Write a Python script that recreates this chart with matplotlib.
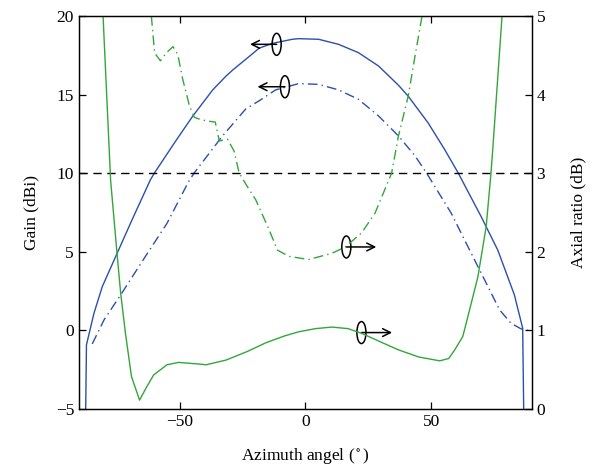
import numpy as np
import matplotlib
matplotlib.use("Agg")
import matplotlib.pyplot as plt
from matplotlib.patches import Ellipse

plt.rcParams['font.family'] = ['Liberation Serif', 'DejaVu Serif']
plt.rcParams['font.size'] = 12.5
plt.rcParams['mathtext.fontset'] = 'stix'

BLUE = '#2c4fae'
GREEN = '#33a63a'

# gain, solid blue (dBi)
gain1_x = [-87.3, -87.0, -84.0, -80.7, -74.8, -68.9, -61.6, -59.9, -51.3, -44.7, -36.8,
           -31.5, -28.9, -21.0, -18.4, -13.1, -5.2, -2.6, 5.3, 13.2, 21.1, 29.1, 37.0,
           40.9, 48.8, 55.4, 60.7, 69.9, 76.5, 83.1, 86.4, 86.8]
gain1_y = [-5.0, -0.93, 1.09, 2.78, 4.9, 7.02, 9.57, 10.03, 12.1, 13.64, 15.3,
           16.18, 16.56, 17.6, 17.95, 18.26, 18.52, 18.56, 18.52, 18.2, 17.67, 16.82, 15.6,
           14.9, 13.2, 11.5, 10.03, 7.23, 5.1, 2.25, 0.13, -5.0]

# gain, dash-dot blue (dBi)
gain2_x = [-84.7, -80.0, -73.4, -63.6, -55.0, -46.4, -44.1, -32.9, -23.6, -18.4, -11.8,
           -2.6, 5.3, 13.2, 21.1, 29.1, 37.0, 43.6, 48.1, 58.0, 64.6, 71.9, 77.2,
           81.7, 85.7, 89.5]
gain2_y = [-0.87, 0.66, 2.25, 4.69, 6.8, 9.46, 10.03, 12.37, 14.1, 14.6, 15.3,
           15.7, 15.65, 15.3, 14.7, 13.64, 12.37, 11.1, 10.03, 7.45, 5.33, 3.0, 1.3,
           0.45, 0.09, -0.05]

# axial ratio, solid green (dB)
ar1_x = [-80.4, -77.4, -74.8, -73.4, -71.5, -69.1, -65.9, -63.2, -60.3, -55.0, -50.4,
         -42.5, -39.4, -31.5, -23.0, -15.7, -8.0, -2.6, 4.0, 10.6, 17.0, 22.4, 30.0,
         37.0, 45.0, 53.4, 57.0, 59.4, 62.6, 65.3, 68.6, 71.9, 73.8, 74.5, 78.2]
ar1_y = [5.0, 2.91, 1.96, 1.47, 0.96, 0.41, 0.11, 0.27, 0.43, 0.56, 0.59,
         0.57, 0.56, 0.62, 0.73, 0.84, 0.93, 0.98, 1.02, 1.04, 1.02, 0.96, 0.85,
         0.75, 0.66, 0.61, 0.64, 0.75, 0.92, 1.26, 1.68, 2.32, 3.0, 3.3, 5.0]

# axial ratio, dash-dot green (dB)
ar2_x = [-61.2, -59.9, -57.6, -55.3, -52.6, -50.7, -48.7, -46.0, -44.1, -41.4, -38.1,
         -35.8, -34.2, -30.9, -28.3, -26.3, -22.5, -19.7, -14.4, -11.1, -6.5, 1.4, 10.6,
         15.9, 22.4, 27.7, 34.3, 37.0, 40.9, 43.6, 46.4]
ar2_y = [5.0, 4.53, 4.43, 4.53, 4.61, 4.51, 4.19, 3.85, 3.71, 3.68, 3.66,
         3.65, 3.41, 3.43, 3.28, 3.0, 2.8, 2.66, 2.28, 2.02, 1.94, 1.90, 1.98,
         2.06, 2.24, 2.49, 3.0, 3.47, 3.98, 4.49, 5.0]

x_ticks = [-50, 0, 50]
gain_ticks = [-5, 0, 5, 10, 15, 20]
ar_ticks = [0, 1, 2, 3, 4, 5]

fig = plt.figure(figsize=(6.07, 4.72), dpi=100)
ax = fig.add_axes([0.130, 0.134, 0.746, 0.832])
ax2 = ax.twinx()

dashdot = (0, (7, 3, 1, 3))
ax.plot(gain1_x, gain1_y, color=BLUE, lw=1.0)
ax.plot(gain2_x, gain2_y, color=BLUE, lw=1.0, ls=dashdot)
ax.axhline(10, color='black', lw=1.0, ls=(0, (6, 4)))
ax2.plot(ar1_x, ar1_y, color=GREEN, lw=1.0)
ax2.plot(ar2_x, ar2_y, color=GREEN, lw=1.0, ls=dashdot)

ax.set_xlim(-90, 90)
ax.set_ylim(-5, 20)
ax2.set_ylim(0, 5)
ax.set_xticks(x_ticks)
ax.set_yticks(gain_ticks)
ax2.set_yticks(ar_ticks)
ax.tick_params(direction='in', length=5, top=True, width=0.9)
ax2.tick_params(direction='in', length=5, width=0.9)
for a in (ax, ax2):
    for s in a.spines.values():
        s.set_linewidth(0.9)

ax.set_xlabel('Azimuth angel ($^\\circ$)', labelpad=12)
ax.set_ylabel('Gain (dBi)', labelpad=12)
ax2.set_ylabel('Axial ratio (dB)', labelpad=18)

# ellipse + arrow markers pointing to the axis of each curve
markers = [(-11.4, 18.2, -22.0), (-8.1, 15.5, -19.0), (16.3, 5.3, 28.2), (22.3, -0.15, 34.5)]
for cx, cy, tx in markers:
    ax.add_patch(Ellipse((cx, cy), 3.6, 1.4, fill=False, ec='black', lw=1.1, zorder=5))
    ax.annotate('', xy=(tx, cy), xytext=(cx, cy),
                arrowprops=dict(arrowstyle='->', color='black', lw=1.1,
                                shrinkA=0, shrinkB=0, mutation_scale=14))

fig.savefig('out.png', dpi=100)
